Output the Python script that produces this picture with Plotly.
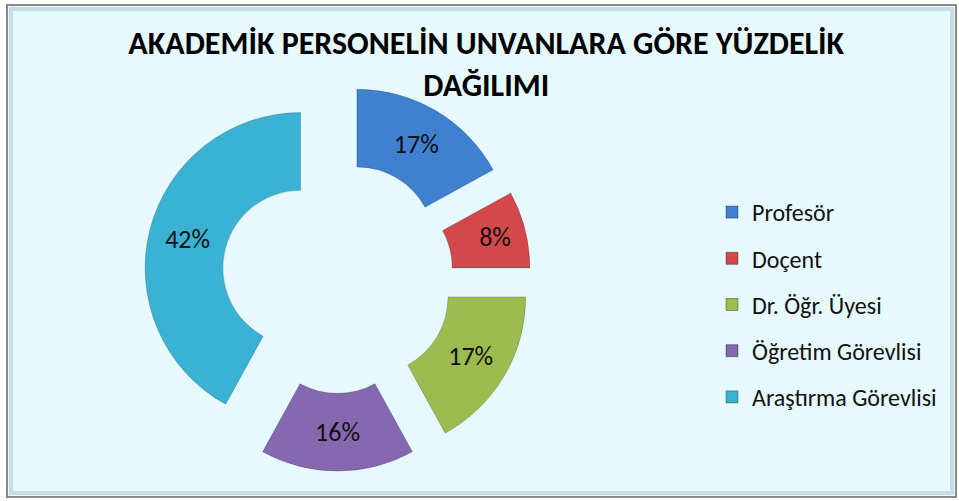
import plotly.graph_objects as go

labels = ["Profesör", "Doçent", "Dr. Öğr. Üyesi", "Öğretim Görevlisi", "Araştırma Görevlisi"]
values = [17, 8, 17, 16, 42]
colors = ["#3F80CF", "#D3484A", "#9CBC50", "#8668B0", "#3AB2D4"]
title_text = "AKADEMİK PERSONELİN UNVANLARA GÖRE YÜZDELİK<br>DAĞILIMI"

W, H = 959, 501
cx, cy = 337.5, 277.5
half = 193.6

fig = go.Figure()
fig.add_trace(go.Pie(
    labels=labels, values=values,
    marker=dict(colors=colors, line=dict(color="rgba(0,0,0,0.18)", width=1)),
    hole=0.5, pull=[0.245] * len(values),
    sort=False, direction="clockwise", rotation=0,
    texttemplate="%{percent:.0%}", textposition="inside",
    insidetextorientation="horizontal",
    textfont=dict(family="Carlito, Lato, 'Open Sans', sans-serif", size=26, color="#111111"),
    showlegend=False, hoverinfo="label+percent",
    domain=dict(x=[(cx - half) / W, (cx + half) / W],
                y=[1 - (cy + half) / H, 1 - (cy - half) / H]),
))

for lab, col in zip(labels, colors):
    fig.add_trace(go.Scatter(
        x=[None], y=[None], mode="markers", name=lab, legendgroup=lab,
        marker=dict(symbol="square", size=12, color=col,
                    line=dict(color="rgba(0,0,0,0.35)", width=1)),
        hoverinfo="skip",
    ))

fig.update_layout(
    width=W, height=H,
    margin=dict(l=0, r=0, t=0, b=0),
    paper_bgcolor="#FFFFFF", plot_bgcolor="rgba(0,0,0,0)",
    xaxis=dict(visible=False), yaxis=dict(visible=False),
    title=dict(text=title_text, x=0.507, xanchor="center", y=1 - 54 / H, yanchor="top",
               font=dict(family="Carlito, 'Open Sans', sans-serif",
                         size=32, color="#000000", weight="bold")),
    legend=dict(x=712 / W, xanchor="left", y=1 - 190 / H, yanchor="top",
                font=dict(family="Carlito, Lato, 'Open Sans', sans-serif", size=24, color="#111111"),
                bgcolor="rgba(0,0,0,0)", tracegroupgap=12, traceorder="grouped"),
    shapes=[
        dict(type="rect", xref="paper", yref="paper", x0=7 / W, x1=956 / W, y0=1 - 497 / H, y1=1 - 5 / H,
             line=dict(color="#8A8A8A", width=2), fillcolor="#E6F9FD", layer="below"),
        dict(type="rect", xref="paper", yref="paper", x0=11 / W, x1=952 / W, y0=1 - 493 / H, y1=1 - 9 / H,
             line=dict(color="rgba(185,210,218,0.7)", width=4), layer="below"),
    ],
)

fig.write_html("out.html", config={"displayModeBar": False},
               post_script="document.body.style.margin='0';document.body.style.overflow='hidden';")
